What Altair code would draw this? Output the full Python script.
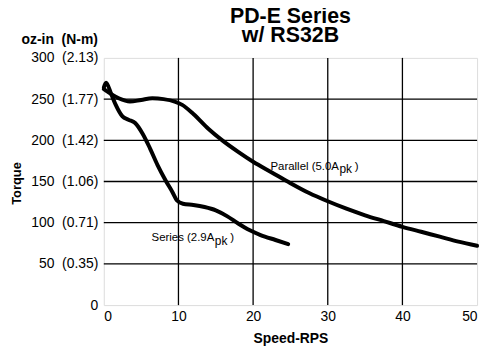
import altair as alt
import pandas as pd

# ---- data ----
parallel_speed = [0, 1, 2, 3.5, 5, 6.5, 8, 9.5, 10.5, 12, 14, 16, 18, 20, 22.5, 25,
                  27.5, 30, 32.5, 35, 37.5, 40, 42.5, 45, 47.5, 50]
parallel_torque = [262, 256, 251, 247, 249, 251, 250, 247, 243, 232, 214, 199, 186, 174,
                   161, 148, 136, 126, 117, 109, 102, 95, 89, 83, 77, 72]

series_speed = [0, 0.3, 1, 1.6, 2.5, 3.3, 4.2, 5.2, 6.2, 7.2, 8.3, 9.2, 9.8, 10.6, 12,
                13.5, 15, 16.5, 18, 19.5, 21, 23, 24.7]
series_torque = [264, 270, 256, 243, 229, 225, 221, 208, 190, 170, 151, 137, 127, 123,
                 121.5, 119, 115, 108, 99, 91, 85, 79, 74]

y_ticks = [0, 50, 100, 150, 200, 250, 300]
y_tick_labels = ["0", "50\u00a0 (0.35)", "100\u00a0 (0.71)", "150\u00a0 (1.06)",
                 "200\u00a0 (1.42)", "250\u00a0 (1.77)", "300\u00a0 (2.13)"]
x_ticks = [0, 5, 10, 15, 20, 25, 30, 35, 40, 45, 50]
x_grid = [10, 20, 30, 40]
y_grid = [50, 100, 150, 200, 250]

label_main = ["Parallel (5.0A", "Series (2.9A"]
label_x = [31.5, 14.8]
label_y = [164.5, 77.5]

FONT = "Liberation Sans"

curves = pd.concat([
    pd.DataFrame({"speed": parallel_speed, "torque": parallel_torque, "curve": "Parallel"}),
    pd.DataFrame({"speed": series_speed, "torque": series_torque, "curve": "Series"}),
])
labels = pd.DataFrame({"text": label_main, "speed": label_x, "torque": label_y})

xs = alt.Scale(domain=[0, 50], nice=False, zero=True)
ys = alt.Scale(domain=[0, 300], nice=False, zero=True)

# label expression for y axis
expr = "''"
for v, t in zip(reversed(y_ticks), reversed(y_tick_labels)):
    expr = f"datum.value == {v} ? '{t}' : ({expr})"

xaxis = alt.Axis(values=x_ticks, grid=False, ticks=False, domain=False, labelOverlap=False,
                 labelFont=FONT, labelFontSize=14, labelColor="black", labelPadding=5,
                 title="Speed-RPS", titleFont=FONT, titleFontSize=14, titleFontWeight="bold",
                 titleColor="black", titlePadding=8)
yaxis = alt.Axis(values=y_ticks, grid=False, ticks=False, domain=False, labelExpr=expr,
                 labelOverlap=False,
                 labelFont=FONT, labelFontSize=14, labelColor="black", labelPadding=6,
                 title="Torque", titleFont=FONT, titleFontSize=13, titleFontWeight="bold",
                 titleColor="black", titleX=-81, titleY=126)

vgrid = alt.Chart(pd.DataFrame({"speed": x_grid})).mark_rule(
    color="black", strokeWidth=1.3).encode(x=alt.X("speed:Q", scale=xs, axis=xaxis))
hgrid = alt.Chart(pd.DataFrame({"torque": y_grid})).mark_rule(
    color="black", strokeWidth=1.3).encode(y=alt.Y("torque:Q", scale=ys, axis=yaxis))

lines = alt.Chart(curves).mark_line(
    color="black", strokeWidth=4, interpolate="monotone", strokeCap="round").encode(
    x=alt.X("speed:Q", scale=xs), y=alt.Y("torque:Q", scale=ys), detail="curve:N")

txt_main = alt.Chart(labels).mark_text(
    font=FONT, fontSize=11.5, align="right", baseline="alphabetic", color="black").encode(
    x=alt.X("speed:Q", scale=xs), y=alt.Y("torque:Q", scale=ys), text="text:N")
txt_sub = alt.Chart(labels).mark_text(
    font=FONT, fontSize=12, align="left", baseline="alphabetic", dy=3.5, dx=0.5,
    color="black").encode(
    x=alt.X("speed:Q", scale=xs), y=alt.Y("torque:Q", scale=ys), text=alt.value("pk"))
txt_close = alt.Chart(labels).mark_text(
    font=FONT, fontSize=11.5, align="left", baseline="alphabetic", dx=16,
    color="black").encode(
    x=alt.X("speed:Q", scale=xs), y=alt.Y("torque:Q", scale=ys), text=alt.value(")"))

header = alt.Chart(pd.DataFrame({"t": ["oz-in\u00a0 (N-m)"]})).mark_text(
    font=FONT, fontSize=14, fontWeight="bold", align="right", baseline="alphabetic",
    color="black").encode(x=alt.value(-6), y=alt.value(-14), text="t:N")

chart = alt.layer(vgrid, hgrid, lines, txt_main, txt_sub, txt_close, header).properties(
    width=376, height=249,
    title=alt.TitleParams(text=["PD-E Series", "w/ RS32B"], font=FONT, fontSize=21.5,
                          fontWeight="bold", color="black", anchor="middle", frame="group",
                          lineHeight=19, baseline="alphabetic", offset=0, dy=30.5),
    autosize=alt.AutoSizeParams(type="none"),
    padding={"left": 96.5, "top": 49, "right": 10, "bottom": 46},
).configure_view(stroke="black", strokeWidth=1.5).configure(background="white")

chart.save("out.html", embed_options={"renderer": "svg", "actions": False})
